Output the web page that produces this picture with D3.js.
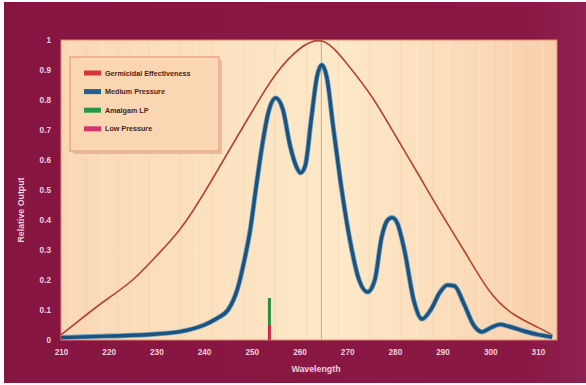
<!DOCTYPE html>
<html><head><meta charset="utf-8">
<script src="https://cdn.jsdelivr.net/npm/d3@7"></script>
<style>html,body{margin:0;padding:0;background:#fff;}svg{display:block;}</style>
</head><body>
<script>
// ---- data ----
const xTicks = [210,220,230,240,250,260,270,280,290,300,310];
const yTicks = [0,0.1,0.2,0.3,0.4,0.5,0.6,0.7,0.8,0.9,1];
const yTickLabels = ["0","0.1","0.2","0.3","0.4","0.5","0.6","0.7","0.8","0.9","1"];
const legendLabels = ["Germicidal Effectiveness","Medium Pressure","Amalgam LP","Low Pressure"];
const legendColors = ["#d8323a","#1f5f95","#1f9a48","#d6336e"];
const germicidalWl = [210,215,220,225,230,235,240,245,250,255,260,265,270,275,280,285,290,295,300,305,310,313];
const germicidalVal = [0.017,0.08,0.14,0.2,0.28,0.37,0.49,0.625,0.76,0.885,0.97,0.995,0.92,0.815,0.685,0.55,0.415,0.285,0.16,0.085,0.042,0.017];
const mediumWl = [210,220,230,235,240,243,245,247,248.5,249.6,251,252.3,253.5,255,256.5,258,259.3,260.2,261.2,262.5,263.7,264.7,265.8,267,268.5,270.5,272.5,274.3,275.8,277.2,278.5,279.4,280.5,282,284,285.7,287.5,289.5,291,292.5,294.5,296.5,298.3,300,302,304,307,310,313];
const mediumVal = [0.008,0.013,0.02,0.028,0.05,0.075,0.1,0.17,0.27,0.36,0.52,0.66,0.76,0.807,0.77,0.65,0.58,0.557,0.58,0.74,0.88,0.917,0.87,0.72,0.54,0.34,0.2,0.16,0.2,0.34,0.4,0.408,0.39,0.3,0.13,0.07,0.1,0.16,0.183,0.18,0.12,0.05,0.027,0.04,0.052,0.045,0.03,0.018,0.01];
const amalgamLine = {wl:253.7, from:0.05, to:0.14};
const lowPressureLine = {wl:253.7, from:0, to:0.05};
const markerWl = 264.6;

const W=586,H=385;
const svg = d3.select("body").append("svg").attr("width",W).attr("height",H);
const defs = svg.append("defs");
const bg = defs.append("linearGradient").attr("id","bg").attr("x1","0").attr("x2","1").attr("y1","0").attr("y2","0");
[["0%","#fad8b6"],["40%","#fce4c2"],["55%","#fde9c8"],["80%","#fbdcba"],["100%","#f9cfac"]].forEach(s=>bg.append("stop").attr("offset",s[0]).attr("stop-color",s[1]));
const fr = defs.append("linearGradient").attr("id","fr").attr("x1","0").attr("x2","1").attr("y1","0").attr("y2","0");
[["0%","#861641"],["90%","#8a1844"],["100%","#8e2250"]].forEach(s=>fr.append("stop").attr("offset",s[0]).attr("stop-color",s[1]));

// frame
svg.append("rect").attr("x",4).attr("y",2).attr("width",W-4).attr("height",381).attr("fill","url(#fr)");

const x = d3.scaleLinear().domain([210,314]).range([61,557]);
const y = d3.scaleLinear().domain([0,1]).range([340,40]);

// plot panel
svg.append("rect").attr("x",x(210)).attr("y",y(1)).attr("width",x(314)-x(210)).attr("height",y(0)-y(1))
  .attr("fill","url(#bg)").attr("stroke","#e9866e").attr("stroke-width",1);

// faint vertical stripes
const stripes = d3.range(212,314,3.3);
svg.append("g").selectAll("line").data(stripes).join("line")
  .attr("x1",d=>x(d)).attr("x2",d=>x(d)).attr("y1",y(1)+1).attr("y2",y(0)-1)
  .attr("stroke",(d,i)=> i%2? "#f3c9a2":"#fff2dc").attr("stroke-opacity",0.35).attr("stroke-width",1.2);

// marker vertical line
svg.append("line").attr("x1",x(markerWl)).attr("x2",x(markerWl)).attr("y1",y(1)).attr("y2",y(0))
  .attr("stroke","#d9b08a").attr("stroke-width",1.2);

// legend
const lg = svg.append("g");
lg.append("rect").attr("x",73).attr("y",60).attr("width",149).attr("height",94).attr("fill","#e3a98a").attr("opacity",0.7);
lg.append("rect").attr("x",70).attr("y",57).attr("width",149).attr("height",94).attr("fill","#fad6b3").attr("stroke","#eeb393").attr("stroke-width",2);
legendLabels.forEach((t,i)=>{
  const cy = 73 + i*18.6;
  lg.append("rect").attr("x",84).attr("y",cy-2.5).attr("width",17).attr("height",5).attr("fill",legendColors[i]);
  lg.append("text").attr("x",105).attr("y",cy+2.5).text(t)
    .attr("font-family","Liberation Sans, Arial, sans-serif").attr("font-weight","bold").attr("font-size",7.2).attr("fill","#4a2418");
});

// curves
const lineM = d3.line().x(d=>x(d[0])).y(d=>y(d[1])).curve(d3.curveMonotoneX);
const lineN = d3.line().x(d=>x(d[0])).y(d=>y(d[1])).curve(d3.curveNatural);
const germ = germicidalWl.map((w,i)=>[w,germicidalVal[i]]);
const med = mediumWl.map((w,i)=>[w,mediumVal[i]]);
svg.append("path").attr("d",lineN(germ)).attr("fill","none").attr("stroke","#b2452e").attr("stroke-width",1.6);
svg.append("path").attr("d",lineM(med)).attr("fill","none").attr("stroke","#6f9dbd").attr("stroke-width",5).attr("stroke-linejoin","round");
svg.append("path").attr("d",lineM(med)).attr("fill","none").attr("stroke","#1c527e").attr("stroke-width",3.4).attr("stroke-linejoin","round");

// amalgam / low pressure bar
svg.append("line").attr("x1",x(lowPressureLine.wl)).attr("x2",x(lowPressureLine.wl)).attr("y1",y(lowPressureLine.from)).attr("y2",y(lowPressureLine.to))
  .attr("stroke","#c8284a").attr("stroke-width",3);
svg.append("line").attr("x1",x(amalgamLine.wl)).attr("x2",x(amalgamLine.wl)).attr("y1",y(amalgamLine.from)).attr("y2",y(amalgamLine.to))
  .attr("stroke","#2d8d3e").attr("stroke-width",3);

// axes
const font = "Liberation Sans, Arial, sans-serif";
const xAxis = svg.append("g").attr("transform","translate(0,340)")
  .call(d3.axisBottom(x).tickValues(xTicks).tickSize(0).tickPadding(9));
xAxis.select(".domain").remove();
xAxis.selectAll("text").attr("fill","#f2cfdc").attr("font-family",font).attr("font-weight","bold").attr("font-size",8.2);

const yAxis = svg.append("g").attr("transform","translate(61,0)")
  .call(d3.axisLeft(y).tickValues(yTicks).tickFormat((d,i)=>yTickLabels[i]).tickSize(0).tickPadding(10));
yAxis.select(".domain").remove();
yAxis.selectAll("text").attr("fill","#f2cfdc").attr("font-family",font).attr("font-weight","bold").attr("font-size",8.2);

svg.append("text").attr("x",316).attr("y",372).attr("text-anchor","middle").text("Wavelength")
  .attr("fill","#f2cfdc").attr("font-family",font).attr("font-weight","bold").attr("font-size",8.8);
svg.append("text").attr("transform","translate(24,210) rotate(-90)").attr("text-anchor","middle").text("Relative Output")
  .attr("fill","#f2cfdc").attr("font-family",font).attr("font-weight","bold").attr("font-size",8.8);
</script>
</body></html>
